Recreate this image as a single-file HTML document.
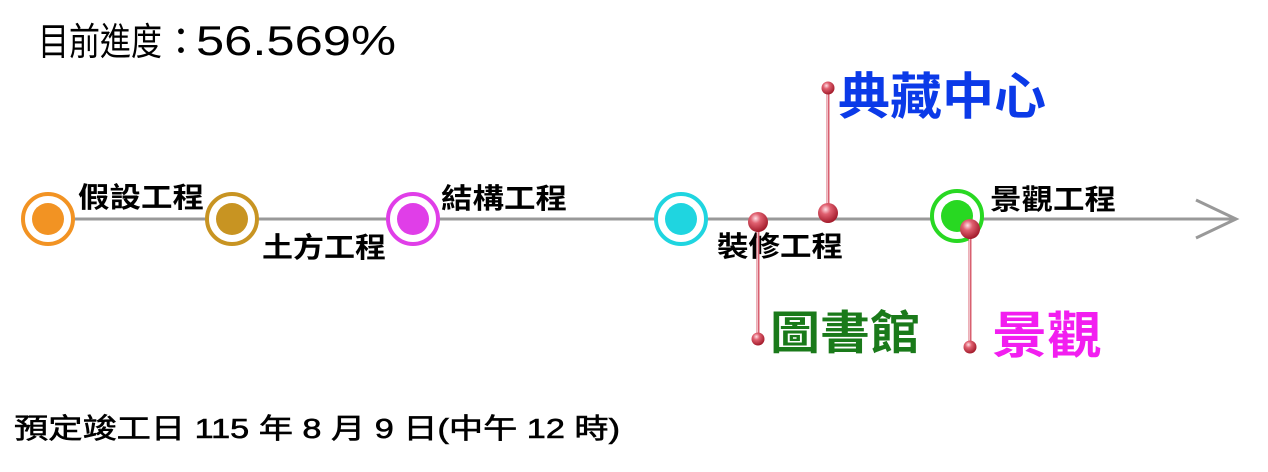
<!DOCTYPE html>
<html><head><meta charset="utf-8"><style>
html,body{margin:0;padding:0;background:#fff;width:1268px;height:472px;overflow:hidden}
svg text{font-family:"Liberation Sans","Noto Sans CJK TC",sans-serif}
</style></head><body>
<svg width="1268" height="472" viewBox="0 0 1268 472" xmlns="http://www.w3.org/2000/svg">
<defs>
<radialGradient id="b" cx="0.38" cy="0.32" r="0.7">
<stop offset="0" stop-color="#ffe0e6"/><stop offset="0.35" stop-color="#e06070"/><stop offset="1" stop-color="#a01828"/>
</radialGradient>
</defs>
<text x="38" y="55" font-size="38" textLength="124" lengthAdjust="spacingAndGlyphs">目前進度</text>
<text x="162" y="55" font-size="38">：</text>
<text x="196" y="55" font-size="42" textLength="200" lengthAdjust="spacingAndGlyphs">56.569%</text>
<line x1="60" y1="219" x2="1236" y2="219" stroke="#999" stroke-width="3"/>
<polyline points="1196,200 1236,219 1196,238" fill="none" stroke="#999" stroke-width="3"/>
<g>
<circle cx="48" cy="219" r="25" fill="#fff" stroke="#f29323" stroke-width="4"/><circle cx="48" cy="219" r="16" fill="#f29323"/>
<circle cx="232" cy="219" r="25" fill="#fff" stroke="#c89422" stroke-width="4"/><circle cx="232" cy="219" r="16" fill="#c89422"/>
<circle cx="413" cy="219" r="25" fill="#fff" stroke="#e03ee8" stroke-width="4"/><circle cx="413" cy="219" r="16" fill="#e03ee8"/>
<circle cx="681" cy="219" r="25" fill="#fff" stroke="#1fd5e0" stroke-width="4"/><circle cx="681" cy="219" r="16" fill="#1fd5e0"/>
<circle cx="957" cy="216" r="25" fill="#fff" stroke="#28d822" stroke-width="4"/><circle cx="957" cy="216" r="16" fill="#28d822"/>
</g>
<g font-size="28" font-weight="bold" fill="#000">
<text x="78" y="207" textLength="126" lengthAdjust="spacingAndGlyphs">假設工程</text>
<text x="262" y="257" textLength="124" lengthAdjust="spacingAndGlyphs">土方工程</text>
<text x="441" y="208" textLength="126" lengthAdjust="spacingAndGlyphs">結構工程</text>
<text x="717" y="256" textLength="126" lengthAdjust="spacingAndGlyphs">裝修工程</text>
<text x="990" y="209" textLength="126" lengthAdjust="spacingAndGlyphs">景觀工程</text>
</g>
<g stroke="#d86070" stroke-width="3">
<line x1="758" y1="222" x2="758" y2="339"/>
<line x1="828" y1="88" x2="828" y2="213"/>
<line x1="970" y1="229" x2="970" y2="347"/>
</g>
<g stroke="#fff" stroke-width="1" opacity="0.6">
<line x1="757.5" y1="222" x2="757.5" y2="339"/>
<line x1="827.5" y1="88" x2="827.5" y2="213"/>
<line x1="969.5" y1="229" x2="969.5" y2="347"/>
</g>
<g fill="url(#b)">
<circle cx="758" cy="222" r="10"/><circle cx="758" cy="339" r="6.5"/>
<circle cx="828" cy="213" r="10"/><circle cx="828" cy="88" r="6.5"/>
<circle cx="970" cy="229" r="10"/><circle cx="970" cy="347" r="6.5"/>
</g>
<text x="838" y="114" font-size="50" font-weight="bold" fill="#0b3ae8" textLength="208" lengthAdjust="spacingAndGlyphs">典藏中心</text>
<text x="770" y="349" font-size="46" font-weight="bold" fill="#1a7a1a" textLength="150" lengthAdjust="spacingAndGlyphs">圖書館</text>
<text x="992" y="353" font-size="50" font-weight="bold" fill="#f21ef0" textLength="110" lengthAdjust="spacingAndGlyphs">景觀</text>
<text x="14" y="438" font-size="28" stroke="#000" stroke-width="0.6" textLength="606" lengthAdjust="spacingAndGlyphs">預定竣工日 115 年 8 月 9 日(中午 12 時)</text>
</svg>
</body></html>
